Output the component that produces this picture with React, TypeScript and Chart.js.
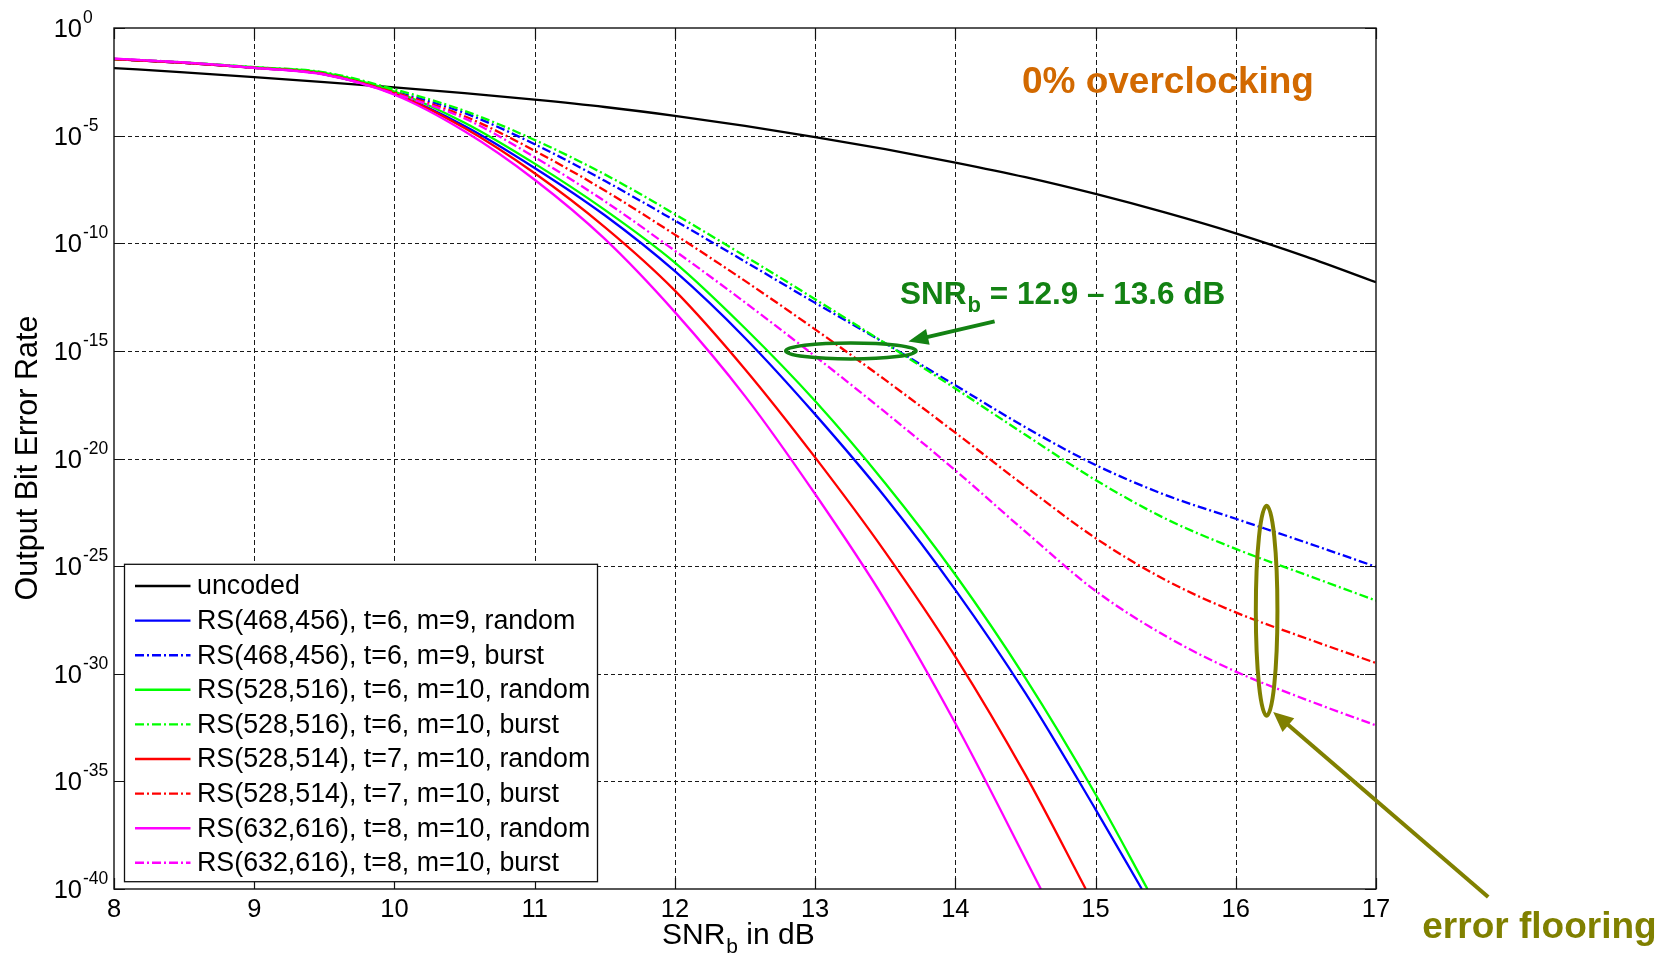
import React, { useEffect, useRef } from 'react';
import { Chart, registerables } from 'chart.js';

Chart.register(...registerables);

const FONT = '"Liberation Sans", Arial, Helvetica, sans-serif';

// ---- data (SNR_b in dB, log10 of output bit error rate) ----
const snrGrid = [8, 8.5, 9, 9.5, 10, 10.5, 11, 11.5, 12, 12.5, 13, 13.5, 14, 14.5, 15, 15.5, 16, 16.5, 17];
const snrRs468Random = [8, 8.5, 9, 9.5, 10, 10.5, 11, 11.5, 12, 12.5, 13, 13.5, 14, 14.5, 15, 15.33];
const snrRs528_516Random = [8, 8.5, 9, 9.5, 10, 10.5, 11, 11.5, 12, 12.5, 13, 13.5, 14, 14.5, 15, 15.37];
const snrRs528_514Random = [8, 8.5, 9, 9.5, 10, 10.5, 11, 11.5, 12, 12.5, 13, 13.5, 14, 14.5, 14.93];
const snrRs632Random = [8, 8.5, 9, 9.5, 10, 10.5, 11, 11.5, 12, 12.5, 13, 13.5, 14, 14.61];

const uncodedLogBer = [-1.86, -2.06, -2.28, -2.51, -2.76, -3.03, -3.33, -3.67, -4.08, -4.55, -5.07, -5.63, -6.25, -6.93, -7.71, -8.58, -9.54, -10.62, -11.81];
const rs468RandomLogBer = [-1.45, -1.62, -1.85, -2.15, -3.05, -4.55, -6.5, -8.7, -11.3, -14.4, -17.95, -21.8, -26.1, -30.9, -36.3, -40];
const rs468BurstLogBer = [-1.45, -1.62, -1.85, -2.12, -2.95, -3.95, -5.4, -7.1, -8.95, -10.85, -12.77, -14.65, -16.6, -18.55, -20.3, -21.7, -22.8, -23.9, -25.03];
const rs528_516RandomLogBer = [-1.44, -1.6, -1.82, -2.08, -2.95, -4.4, -6.3, -8.45, -10.9, -13.95, -17.33, -21.15, -25.4, -30.2, -35.6, -40];
const rs528_516BurstLogBer = [-1.44, -1.6, -1.82, -2.06, -2.85, -3.85, -5.2, -6.8, -8.65, -10.6, -12.6, -14.65, -16.75, -18.9, -21.0, -22.8, -24.2, -25.4, -26.6];
const rs528_514RandomLogBer = [-1.45, -1.62, -1.85, -2.15, -3.05, -4.65, -6.75, -9.25, -12.2, -15.85, -19.95, -24.35, -29.2, -34.7, -40];
const rs528_514BurstLogBer = [-1.45, -1.62, -1.85, -2.13, -3.0, -4.1, -5.7, -7.55, -9.6, -11.75, -14.0, -16.35, -18.8, -21.3, -23.7, -25.65, -27.15, -28.35, -29.5];
const rs632RandomLogBer = [-1.42, -1.6, -1.85, -2.17, -3.1, -4.8, -7.05, -9.8, -13.2, -17.1, -21.65, -26.6, -32.3, -40];
const rs632BurstLogBer = [-1.42, -1.6, -1.85, -2.15, -3.05, -4.2, -6.0, -8.05, -10.35, -12.75, -15.25, -17.85, -20.55, -23.4, -26.15, -28.25, -29.9, -31.2, -32.4];

const seriesLabels = [
  'uncoded',
  'RS(468,456), t=6, m=9, random',
  'RS(468,456), t=6, m=9, burst',
  'RS(528,516), t=6, m=10, random',
  'RS(528,516), t=6, m=10, burst',
  'RS(528,514), t=7, m=10, random',
  'RS(528,514), t=7, m=10, burst',
  'RS(632,616), t=8, m=10, random',
  'RS(632,616), t=8, m=10, burst',
];
const seriesX = [snrGrid, snrRs468Random, snrGrid, snrRs528_516Random, snrGrid, snrRs528_514Random, snrGrid, snrRs632Random, snrGrid];
const seriesLog = [uncodedLogBer, rs468RandomLogBer, rs468BurstLogBer, rs528_516RandomLogBer, rs528_516BurstLogBer, rs528_514RandomLogBer, rs528_514BurstLogBer, rs632RandomLogBer, rs632BurstLogBer];
const seriesColors = ['#000000', '#0000ff', '#0000ff', '#00ff00', '#00ff00', '#ff0000', '#ff0000', '#ff00ff', '#ff00ff'];
const seriesDashDot = [false, false, true, false, true, false, true, false, true];

const xTickValues = [8, 9, 10, 11, 12, 13, 14, 15, 16, 17];
const yTickExponents = [0, -5, -10, -15, -20, -25, -30, -35, -40];

const DASH_DOT = [9, 3, 2, 3];

function arrow(ctx: CanvasRenderingContext2D, x0: number, y0: number, x1: number, y1: number, color: string, width: number, headLen: number, headW: number) {
  const ang = Math.atan2(y1 - y0, x1 - x0);
  const c = Math.cos(ang), s = Math.sin(ang);
  const bx = x1 - headLen * c, by = y1 - headLen * s;
  ctx.save();
  ctx.strokeStyle = color;
  ctx.fillStyle = color;
  ctx.lineWidth = width;
  ctx.setLineDash([]);
  ctx.beginPath();
  ctx.moveTo(x0, y0);
  ctx.lineTo(bx + 2 * c, by + 2 * s);
  ctx.stroke();
  ctx.beginPath();
  ctx.moveTo(x1, y1);
  ctx.lineTo(bx + headW * s, by - headW * c);
  ctx.lineTo(bx - headW * s, by + headW * c);
  ctx.closePath();
  ctx.fill();
  ctx.restore();
}

const decorPlugin = {
  id: 'decor',
  beforeDatasetsDraw(chart: any) {
    const { ctx, chartArea: a, scales } = chart;
    const xs = scales.x, ys = scales.y;
    ctx.save();
    ctx.strokeStyle = '#1a1a1a';
    ctx.lineWidth = 1;
    ctx.setLineDash([5, 3]);
    for (const v of xTickValues) {
      const px = Math.round(xs.getPixelForValue(v)) + 0.5;
      if (px <= a.left + 2 || px >= a.right - 2) continue;
      ctx.beginPath(); ctx.moveTo(px, a.top); ctx.lineTo(px, a.bottom); ctx.stroke();
    }
    ctx.setLineDash([4, 3]);
    for (const e of yTickExponents) {
      const py = Math.round(ys.getPixelForValue(Math.pow(10, e))) + 0.5;
      if (py <= a.top + 2 || py >= a.bottom - 2) continue;
      ctx.beginPath(); ctx.moveTo(a.left, py); ctx.lineTo(a.right, py); ctx.stroke();
    }
    ctx.restore();
  },
  afterDatasetsDraw(chart: any) {
    const { ctx, chartArea: a, scales } = chart;
    const xs = scales.x, ys = scales.y;
    const px = (v: number) => xs.getPixelForValue(v);
    const py = (e: number) => ys.getPixelForValue(Math.pow(10, e));
    ctx.save();
    ctx.setLineDash([]);

    // axes box + inward ticks
    ctx.strokeStyle = '#111';
    ctx.lineWidth = 1.4;
    ctx.strokeRect(a.left, a.top, a.right - a.left, a.bottom - a.top);
    ctx.lineWidth = 1.2;
    const tl = 11;
    for (const v of xTickValues) {
      const x = Math.round(px(v)) + 0.5;
      ctx.beginPath();
      ctx.moveTo(x, a.bottom); ctx.lineTo(x, a.bottom - tl);
      ctx.moveTo(x, a.top); ctx.lineTo(x, a.top + tl);
      ctx.stroke();
    }
    for (const e of yTickExponents) {
      const y = Math.round(py(e)) + 0.5;
      ctx.beginPath();
      ctx.moveTo(a.left, y); ctx.lineTo(a.left + tl, y);
      ctx.moveTo(a.right, y); ctx.lineTo(a.right - tl, y);
      ctx.stroke();
    }

    // tick labels
    ctx.fillStyle = '#000';
    ctx.font = `25.5px ${FONT}`;
    ctx.textAlign = 'center';
    ctx.textBaseline = 'alphabetic';
    for (const v of xTickValues) {
      ctx.fillText(String(v), px(v), a.bottom + 28);
    }
    for (const e of yTickExponents) {
      const y = py(e);
      ctx.font = `25.5px ${FONT}`;
      ctx.textAlign = 'right';
      ctx.fillText('10', a.left - 32, y + 9);
      ctx.font = `17.5px ${FONT}`;
      ctx.textAlign = 'left';
      ctx.fillText(e === 0 ? '0' : String(e), a.left - 31, y - 5);
    }

    // axis titles
    ctx.font = `30px ${FONT}`;
    ctx.textAlign = 'left';
    let tx = 662;
    const tb = 944;
    ctx.fillText('SNR', tx, tb);
    tx += ctx.measureText('SNR').width + 1;
    ctx.font = `21px ${FONT}`;
    ctx.fillText('b', tx, tb + 9);
    tx += ctx.measureText('b').width;
    ctx.font = `30px ${FONT}`;
    ctx.fillText(' in dB', tx, tb);

    ctx.save();
    ctx.translate(37, 458);
    ctx.rotate(-Math.PI / 2);
    ctx.textAlign = 'center';
    ctx.textBaseline = 'alphabetic';
    ctx.font = `30.5px ${FONT}`;
    ctx.fillText('Output Bit Error Rate', 0, 0);
    ctx.restore();

    // legend
    const lx = a.left + 10.5, lyBottom = a.bottom - 7.3;
    const lw = 473, lh = 317.4;
    const ly = lyBottom - lh;
    ctx.fillStyle = '#fff';
    ctx.fillRect(lx, ly, lw, lh);
    ctx.strokeStyle = '#111';
    ctx.lineWidth = 1.3;
    ctx.strokeRect(lx, ly, lw, lh);
    chart.data.datasets.forEach((ds: any, i: number) => {
      const cy = ly + 21.7 + i * 34.6;
      ctx.strokeStyle = ds.borderColor;
      ctx.lineWidth = 2.4;
      ctx.setLineDash(ds.borderDash || []);
      ctx.beginPath();
      ctx.moveTo(lx + 10.5, cy);
      ctx.lineTo(lx + 66, cy);
      ctx.stroke();
      ctx.setLineDash([]);
      ctx.fillStyle = '#000';
      ctx.font = `26.8px ${FONT}`;
      ctx.textAlign = 'left';
      ctx.textBaseline = 'middle';
      ctx.fillText(ds.label, lx + 72.5, cy + 1);
    });
    ctx.textBaseline = 'alphabetic';

    // annotations
    ctx.fillStyle = '#d26900';
    ctx.font = `bold 37px ${FONT}`;
    ctx.textAlign = 'left';
    ctx.fillText('0% overclocking', px(14.475), py(-3.0));

    const green = '#138213';
    ctx.fillStyle = green;
    let sx = px(13.606);
    const sb = py(-12.82);
    ctx.font = `bold 31.5px ${FONT}`;
    ctx.fillText('SNR', sx, sb);
    sx += ctx.measureText('SNR').width + 1;
    ctx.font = `bold 22px ${FONT}`;
    ctx.fillText('b', sx, sb + 8);
    sx += ctx.measureText('b').width;
    ctx.font = `bold 31.5px ${FONT}`;
    ctx.fillText(' = 12.9 \u2013 13.6 dB', sx, sb);

    ctx.strokeStyle = green;
    ctx.lineWidth = 3.5;
    const gx0 = px(12.79), gx1 = px(13.72);
    ctx.beginPath();
    ctx.ellipse((gx0 + gx1) / 2, py(-15), (gx1 - gx0) / 2, 8, 0, 0, Math.PI * 2);
    ctx.stroke();
    arrow(ctx, px(14.28), py(-13.63), px(13.665), py(-14.56), green, 4, 20, 8);

    const olive = '#808000';
    ctx.strokeStyle = olive;
    ctx.lineWidth = 4;
    const oyTop = py(-22.2), oyBot = py(-31.95);
    ctx.beginPath();
    ctx.ellipse(px(16.22), (oyTop + oyBot) / 2, 10.8, (oyBot - oyTop) / 2, 0, 0, Math.PI * 2);
    ctx.stroke();
    arrow(ctx, px(17.8), py(-40.37), px(16.267), py(-31.78), olive, 4, 20, 9);
    ctx.fillStyle = olive;
    ctx.font = `bold 37px ${FONT}`;
    ctx.fillText('error flooring', px(17.33), py(-42.28));

    ctx.restore();
  },
};

export default function App() {
  const canvasRef = useRef<HTMLCanvasElement | null>(null);

  useEffect(() => {
    const canvas = canvasRef.current;
    if (!canvas) return;
    const datasets = seriesLabels.map((label, i) => ({
      label,
      data: seriesX[i].map((x, j) => ({ x, y: Math.pow(10, seriesLog[i][j]) })),
      borderColor: seriesColors[i],
      backgroundColor: seriesColors[i],
      borderWidth: 2.3,
      borderDash: seriesDashDot[i] ? DASH_DOT : [],
      pointRadius: 0,
      pointHoverRadius: 0,
      fill: false,
      cubicInterpolationMode: 'monotone' as const,
      order: seriesLabels.length - i,
    }));
    const chart = new Chart(canvas, {
      type: 'line',
      data: { datasets },
      options: {
        responsive: false,
        animation: false,
        events: [],
        layout: { padding: { left: 114, top: 28, right: 294, bottom: 68 } },
        scales: {
          x: { type: 'linear', min: 8, max: 17, display: false },
          y: { type: 'logarithmic', min: 1e-40, max: 1, display: false },
        },
        plugins: {
          legend: { display: false },
          tooltip: { enabled: false },
          title: { display: false },
        },
      },
      plugins: [decorPlugin],
    });
    return () => chart.destroy();
  }, []);

  return (
    <div style={{ position: 'absolute', left: 0, top: 0, width: 1670, height: 957, background: '#fff' }}>
      <canvas ref={canvasRef} width={1670} height={957} style={{ display: 'block', width: 1670, height: 957 }} />
    </div>
  );
}
